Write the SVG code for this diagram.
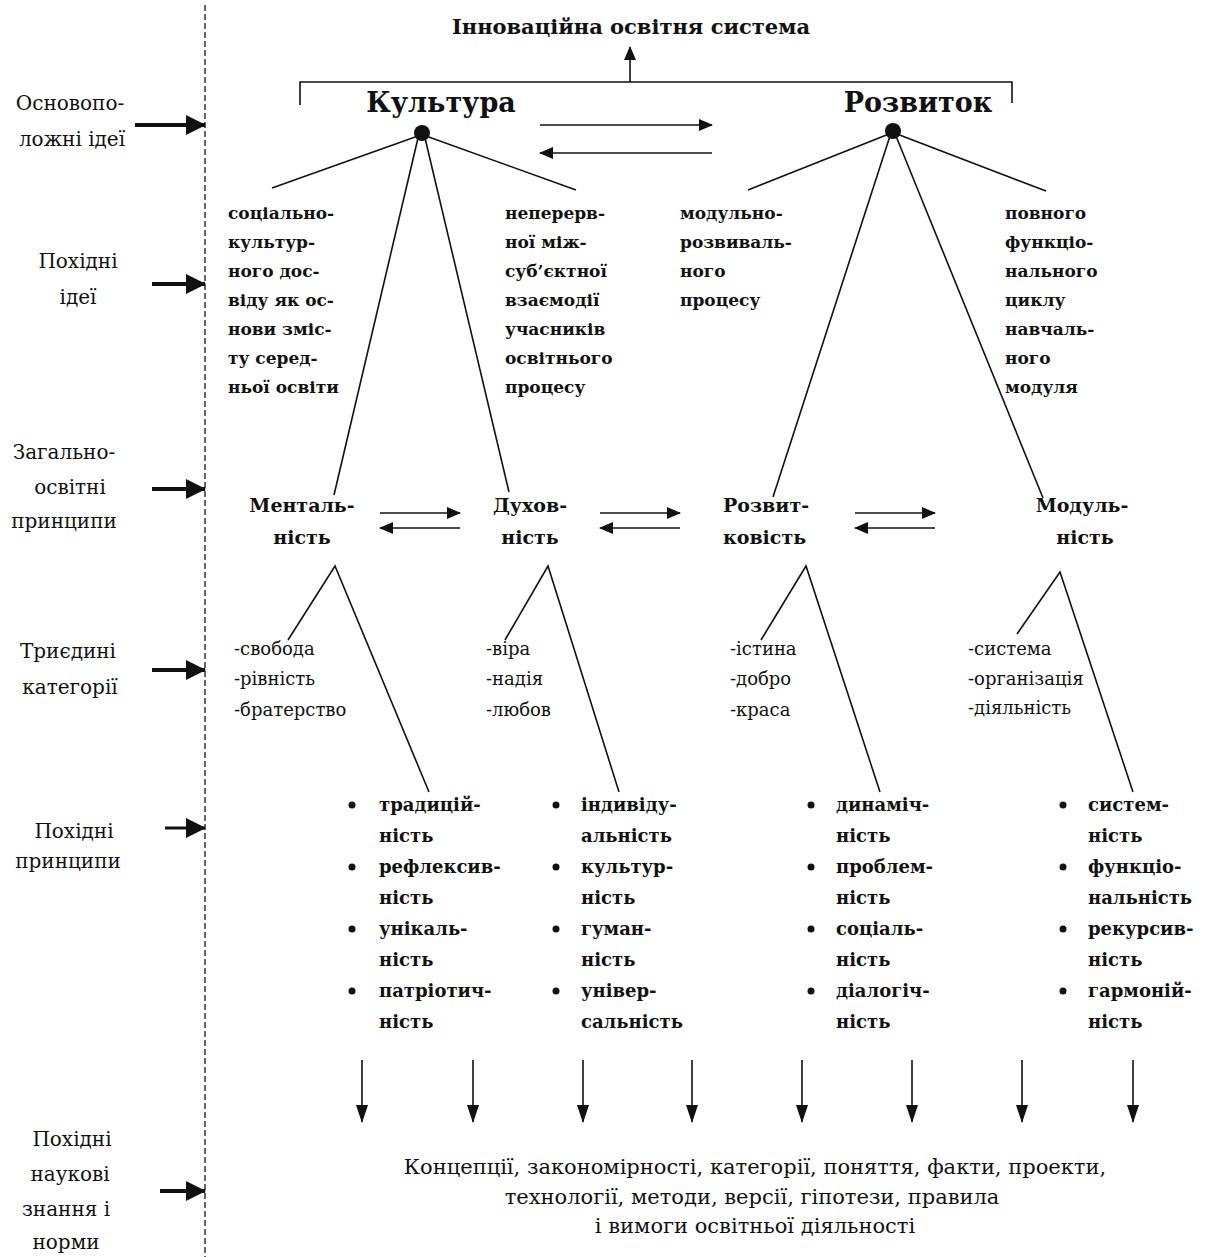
<svg xmlns="http://www.w3.org/2000/svg" width="1208" height="1257" viewBox="0 0 1208 1257">
<style>
.lbl{font-family:"DejaVu Serif","Liberation Serif",serif;font-size:20px;fill:#111;text-anchor:middle}
.t{font-family:"DejaVu Serif","Liberation Serif",serif;font-size:17px;font-weight:bold;fill:#111}
.tn{font-family:"DejaVu Serif","Liberation Serif",serif;font-size:17px;fill:#111}
.p{font-size:19px}
.b{font-size:18px}
.c{text-anchor:middle}
.big{font-family:"DejaVu Serif","Liberation Serif",serif;font-size:27px;font-weight:bold;fill:#111;text-anchor:middle}
.ln{stroke:#111;stroke-width:1.6;fill:none}
.th{stroke:#111;stroke-width:4;fill:none}
.dash{stroke:#111;stroke-width:1.3;stroke-dasharray:6 3;fill:none}
.dot{fill:#111}
</style>
<defs>
<marker id="ah" markerUnits="userSpaceOnUse" markerWidth="14" markerHeight="12" refX="13" refY="6" orient="auto">
<path d="M0,0 L14,6 L0,12 Z" fill="#111"/>
</marker>
<marker id="dh" markerUnits="userSpaceOnUse" markerWidth="18" markerHeight="12" refX="17" refY="6" orient="auto">
<path d="M0,0 L18,6 L0,12 Z" fill="#111"/>
</marker>
<marker id="bh" markerUnits="userSpaceOnUse" markerWidth="20" markerHeight="20" refX="19" refY="10" orient="auto">
<path d="M0,0 L20,10 L0,20 Z" fill="#111"/>
</marker>
</defs>
<rect width="1208" height="1257" fill="#fff"/>

<g id="divider"><line class="dash" x1="205" y1="5" x2="205" y2="1257"/></g>

<g id="left-labels">
<g id="lbl-1"><text class="lbl" x="70" y="110">Основопо-</text><text class="lbl" x="72" y="146">ложні ідеї</text></g>
<g id="lbl-2"><text class="lbl" x="78" y="268">Похідні</text><text class="lbl" x="78" y="304">ідеї</text></g>
<g id="lbl-3"><text class="lbl" x="64" y="459">Загально-</text><text class="lbl" x="70" y="494">освітні</text><text class="lbl" x="64" y="528">принципи</text></g>
<g id="lbl-4"><text class="lbl" x="68" y="658">Триєдині</text><text class="lbl" x="70" y="694">категорії</text></g>
<g id="lbl-5"><text class="lbl" x="74" y="838">Похідні</text><text class="lbl" x="68" y="868">принципи</text></g>
<g id="lbl-6"><text class="lbl" x="72" y="1146">Похідні</text><text class="lbl" x="70" y="1181">наукові</text><text class="lbl" x="66" y="1216">знання і</text><text class="lbl" x="66" y="1249">норми</text></g>
</g>

<g id="title"><text class="t c" x="631" y="34" style="font-size:21px">Інноваційна освітня система</text></g>

<g id="n-kultura"><text class="big" x="441" y="112">Культура</text><circle class="dot" cx="422" cy="133" r="8"/></g>
<g id="n-rozvytok"><text class="big" x="918" y="112">Розвиток</text><circle class="dot" cx="893" cy="131" r="8"/></g>

<g id="n-idea1" class="t">
<text x="228" y="219">соціально-</text><text x="228" y="248">культур-</text><text x="228" y="277">ного дос-</text><text x="228" y="306">віду як ос-</text><text x="228" y="335">нови зміс-</text><text x="228" y="364">ту серед-</text><text x="228" y="393">ньої освіти</text>
</g>
<g id="n-idea2" class="t">
<text x="505" y="219">неперерв-</text><text x="505" y="248">ної між-</text><text x="505" y="277">суб’єктної</text><text x="505" y="306">взаємодії</text><text x="505" y="335">учасників</text><text x="505" y="364">освітнього</text><text x="505" y="393">процесу</text>
</g>
<g id="n-idea3" class="t">
<text x="680" y="219">модульно-</text><text x="680" y="248">розвиваль-</text><text x="680" y="277">ного</text><text x="680" y="306">процесу</text>
</g>
<g id="n-idea4" class="t">
<text x="1005" y="219">повного</text><text x="1005" y="248">функціо-</text><text x="1005" y="277">нального</text><text x="1005" y="306">циклу</text><text x="1005" y="335">навчаль-</text><text x="1005" y="364">ного</text><text x="1005" y="393">модуля</text>
</g>

<g id="n-mentalnist" class="t p c"><text x="302" y="512">Менталь-</text><text x="302" y="544">ність</text></g>
<g id="n-dukhovnist" class="t p c"><text x="530" y="512">Духов-</text><text x="530" y="544">ність</text></g>
<g id="n-rozvytkovist" class="t p"><text x="723" y="512">Розвит-</text><text x="723" y="544">ковість</text></g>
<g id="n-modulnist" class="t p c"><text x="1082" y="512">Модуль-</text><text x="1085" y="544">ність</text></g>

<g id="n-cat1" class="tn b"><text x="234" y="655">-свобода</text><text x="234" y="685">-рівність</text><text x="234" y="716">-братерство</text></g>
<g id="n-cat2" class="tn b"><text x="486" y="655">-віра</text><text x="486" y="685">-надія</text><text x="486" y="716">-любов</text></g>
<g id="n-cat3" class="tn b"><text x="730" y="655">-істина</text><text x="730" y="685">-добро</text><text x="730" y="716">-краса</text></g>
<g id="n-cat4" class="tn b"><text x="968" y="655">-система</text><text x="968" y="685">-організація</text><text x="968" y="714">-діяльність</text></g>

<g id="n-pr1" class="t b">
<circle class="dot" cx="352" cy="805" r="3.5"/><circle class="dot" cx="352" cy="867" r="3.5"/><circle class="dot" cx="352" cy="929" r="3.5"/><circle class="dot" cx="352" cy="991" r="3.5"/>
<text x="379" y="811">традицій-</text><text x="379" y="842">ність</text><text x="379" y="873">рефлексив-</text><text x="379" y="904">ність</text><text x="379" y="935">унікаль-</text><text x="379" y="966">ність</text><text x="379" y="997">патріотич-</text><text x="379" y="1028">ність</text>
</g>
<g id="n-pr2" class="t b">
<circle class="dot" cx="556" cy="805" r="3.5"/><circle class="dot" cx="556" cy="867" r="3.5"/><circle class="dot" cx="556" cy="929" r="3.5"/><circle class="dot" cx="556" cy="991" r="3.5"/>
<text x="581" y="811">індивіду-</text><text x="581" y="842">альність</text><text x="581" y="873">культур-</text><text x="581" y="904">ність</text><text x="581" y="935">гуман-</text><text x="581" y="966">ність</text><text x="581" y="997">універ-</text><text x="581" y="1028">сальність</text>
</g>
<g id="n-pr3" class="t b">
<circle class="dot" cx="811" cy="805" r="3.5"/><circle class="dot" cx="811" cy="867" r="3.5"/><circle class="dot" cx="811" cy="929" r="3.5"/><circle class="dot" cx="811" cy="991" r="3.5"/>
<text x="836" y="811">динаміч-</text><text x="836" y="842">ність</text><text x="836" y="873">проблем-</text><text x="836" y="904">ність</text><text x="836" y="935">соціаль-</text><text x="836" y="966">ність</text><text x="836" y="997">діалогіч-</text><text x="836" y="1028">ність</text>
</g>
<g id="n-pr4" class="t b">
<circle class="dot" cx="1063" cy="805" r="3.5"/><circle class="dot" cx="1063" cy="867" r="3.5"/><circle class="dot" cx="1063" cy="929" r="3.5"/><circle class="dot" cx="1063" cy="991" r="3.5"/>
<text x="1088" y="811">систем-</text><text x="1088" y="842">ність</text><text x="1088" y="873">функціо-</text><text x="1088" y="904">нальність</text><text x="1088" y="935">рекурсив-</text><text x="1088" y="966">ність</text><text x="1088" y="997">гармоній-</text><text x="1088" y="1028">ність</text>
</g>

<g id="n-result" class="tn c" style="font-size:21px">
<text x="755" y="1174">Концепції, закономірності, категорії, поняття, факти, проекти,</text>
<text x="752" y="1204">технології, методи, версії, гіпотези, правила</text>
<text x="755" y="1233">і вимоги освітньої діяльності</text>
</g>

<g id="connectors">
<path class="ln" d="M300,105 V82 H1012 V103"/>
<line class="ln" x1="630" y1="82" x2="630" y2="47" marker-end="url(#ah)"/>
<line class="ln" x1="540" y1="125" x2="712" y2="125" marker-end="url(#ah)"/>
<line class="ln" x1="712" y1="153" x2="540" y2="153" marker-end="url(#ah)"/>

<line class="ln" x1="418" y1="136" x2="272" y2="188"/>
<line class="ln" x1="426" y1="136" x2="576" y2="190"/>
<line class="ln" x1="418" y1="138" x2="334" y2="495"/>
<line class="ln" x1="425" y1="138" x2="509" y2="492"/>

<line class="ln" x1="889" y1="134" x2="748" y2="190"/>
<line class="ln" x1="897" y1="134" x2="1046" y2="191"/>
<line class="ln" x1="890" y1="136" x2="773" y2="497"/>
<line class="ln" x1="896" y1="136" x2="1043" y2="498"/>

<line class="ln" x1="380" y1="513" x2="460" y2="513" marker-end="url(#ah)"/>
<line class="ln" x1="460" y1="528" x2="380" y2="528" marker-end="url(#ah)"/>
<line class="ln" x1="600" y1="513" x2="680" y2="513" marker-end="url(#ah)"/>
<line class="ln" x1="680" y1="528" x2="600" y2="528" marker-end="url(#ah)"/>
<line class="ln" x1="855" y1="513" x2="935" y2="513" marker-end="url(#ah)"/>
<line class="ln" x1="935" y1="528" x2="855" y2="528" marker-end="url(#ah)"/>

<polyline class="ln" points="288,640 335,566 429,792"/>
<polyline class="ln" points="505,640 548,566 619,792"/>
<polyline class="ln" points="761,640 806,566 880,792"/>
<polyline class="ln" points="1017,634 1060,572 1133,792"/>

<line class="ln" x1="362" y1="1060" x2="362" y2="1122" marker-end="url(#dh)"/>
<line class="ln" x1="473" y1="1060" x2="473" y2="1122" marker-end="url(#dh)"/>
<line class="ln" x1="583" y1="1060" x2="583" y2="1122" marker-end="url(#dh)"/>
<line class="ln" x1="692" y1="1060" x2="692" y2="1122" marker-end="url(#dh)"/>
<line class="ln" x1="802" y1="1060" x2="802" y2="1122" marker-end="url(#dh)"/>
<line class="ln" x1="912" y1="1060" x2="912" y2="1122" marker-end="url(#dh)"/>
<line class="ln" x1="1022" y1="1060" x2="1022" y2="1122" marker-end="url(#dh)"/>
<line class="ln" x1="1133" y1="1060" x2="1133" y2="1122" marker-end="url(#dh)"/>

<line class="th" x1="135" y1="125" x2="205" y2="125" marker-end="url(#bh)"/>
<line class="th" x1="152" y1="284" x2="205" y2="284" marker-end="url(#bh)"/>
<line class="th" x1="152" y1="489" x2="205" y2="489" marker-end="url(#bh)"/>
<line class="th" x1="152" y1="670" x2="205" y2="670" marker-end="url(#bh)"/>
<line class="th" x1="165" y1="828" x2="205" y2="828" marker-end="url(#bh)" style="stroke-width:3"/>
<line class="th" x1="160" y1="1191" x2="205" y2="1191" marker-end="url(#bh)"/>
</g>
</svg>
